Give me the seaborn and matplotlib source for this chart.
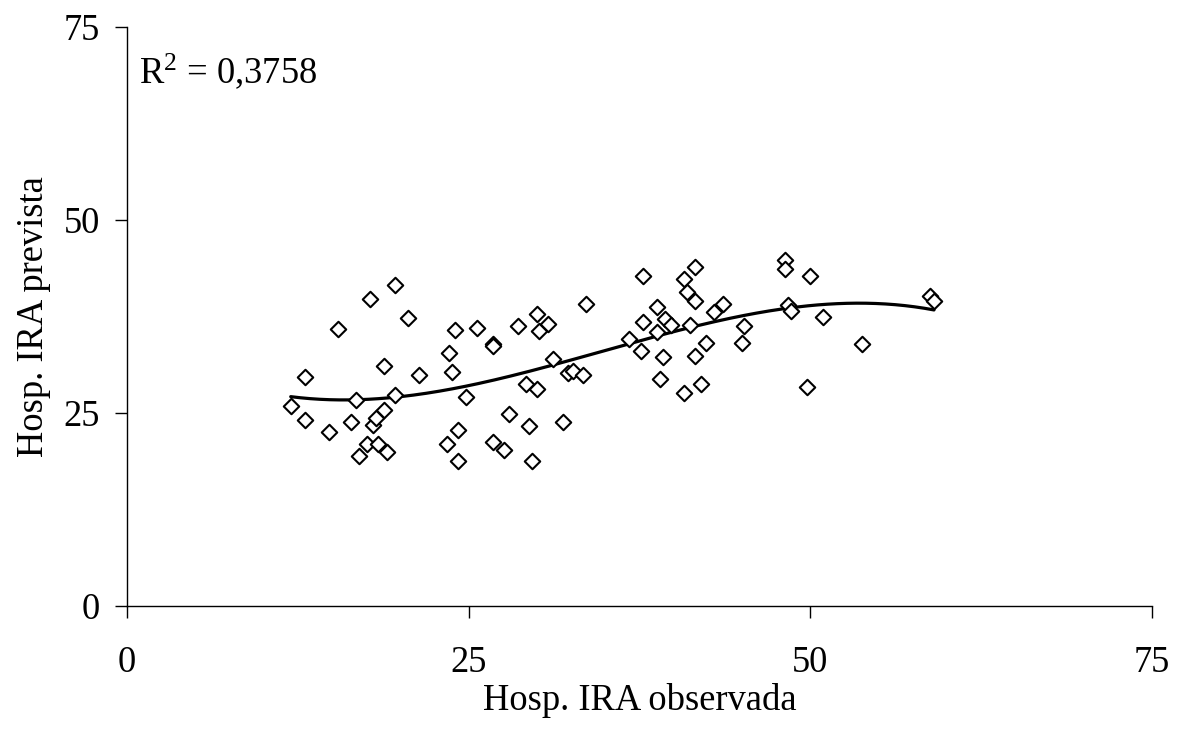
import numpy as np
import pandas as pd
import matplotlib
matplotlib.use("Agg")
import matplotlib.pyplot as plt
import seaborn as sns

observada = [11.98, 13.02, 13.02, 14.80, 15.42, 16.39, 16.78, 17.00, 17.58, 17.78,
             18.00, 18.22, 18.39, 18.80, 18.80, 19.00, 19.61, 19.61, 20.58, 21.39,
             23.39, 23.58, 23.76, 24.00, 24.20, 24.20, 24.80, 25.59, 26.80, 26.80,
             26.80, 27.61, 27.97, 28.59, 29.19, 29.39, 29.61, 29.98, 29.98, 30.17,
             30.83, 31.19, 31.92, 32.29, 32.63, 33.34, 33.59, 36.75, 37.59, 37.78,
             37.78, 38.76, 38.76, 39.00, 39.20, 39.37, 39.80, 40.78, 40.78, 40.95,
             41.19, 41.56, 41.56, 41.56, 41.98, 42.37, 42.95, 43.59, 44.98, 45.17,
             48.17, 48.17, 48.37, 48.56, 49.75, 49.97, 50.95, 53.78, 58.76, 59.05]
prevista = [25.91, 29.62, 24.13, 22.58, 35.88, 23.80, 26.72, 19.43, 20.98, 39.73,
            23.48, 24.31, 20.98, 31.09, 25.35, 19.91, 41.54, 27.33, 37.27, 29.88,
            20.98, 32.73, 30.27, 35.75, 22.80, 18.82, 27.03, 36.05, 33.90, 33.74,
            21.20, 20.21, 24.87, 36.23, 28.76, 23.28, 18.78, 37.82, 28.07, 35.66,
            36.57, 31.96, 23.80, 30.14, 30.48, 29.88, 39.08, 34.59, 33.07, 42.71,
            36.83, 38.77, 35.45, 29.37, 32.22, 37.14, 36.36, 42.40, 27.59, 40.63,
            36.40, 43.91, 39.51, 32.34, 28.80, 34.11, 38.12, 39.16, 34.11, 36.27,
            44.86, 43.61, 38.95, 38.25, 28.37, 42.79, 37.44, 33.94, 40.19, 39.55]
ticks = [0, 25, 50, 75]
r2_label = "0,3758"
x_label = "Hosp. IRA observada"
y_label = "Hosp. IRA prevista"

df = pd.DataFrame({"obs": observada, "prev": prevista})

sns.set_theme(style="white")
plt.rcParams["font.family"] = ["Liberation Serif", "DejaVu Serif"]
plt.rcParams["mathtext.fontset"] = "custom"
plt.rcParams["mathtext.rm"] = "Liberation Serif"

fig = plt.figure(figsize=(11.79, 7.29), dpi=100)
ax = fig.add_axes([127 / 1179, 1 - 606 / 729, (1152 - 127) / 1179, (606 - 27) / 729])

sns.scatterplot(data=df, x="obs", y="prev", ax=ax, marker="D", s=62,
                facecolor="white", edgecolor="black", linewidth=1.5, zorder=3)

coef = np.polyfit(df["obs"], df["prev"], 3)
xs = np.linspace(min(observada), max(observada), 200)
ax.plot(xs, np.polyval(coef, xs), color="black", lw=2.3, zorder=2)

ax.set_xlim(0, 75)
ax.set_ylim(0, 75)
ax.set_xticks(ticks)
ax.set_yticks(ticks)
ax.set_xticklabels([str(t) for t in ticks])
ax.set_yticklabels([str(t) for t in ticks])
for s in ["top", "right"]:
    ax.spines[s].set_visible(False)
for s in ["left", "bottom"]:
    ax.spines[s].set_color("black")
    ax.spines[s].set_linewidth(1.0)
ax.tick_params(axis="both", direction="out", length=8.5, width=1.0, color="black",
               labelsize=26.3, labelcolor="black", bottom=True, left=True)
ax.tick_params(axis="x", pad=20)
ax.tick_params(axis="y", pad=11)
ax.set_xlabel(x_label, fontsize=26.3, color="black", labelpad=2)
ax.set_ylabel(y_label, fontsize=26.3, color="black", labelpad=9)

ax.text(0.9, 69.3, r"$\mathregular{R^2}$ = " + r2_label, fontsize=26.3, va="center",
        ha="left", color="black")

fig.savefig("out.png", dpi=100)
